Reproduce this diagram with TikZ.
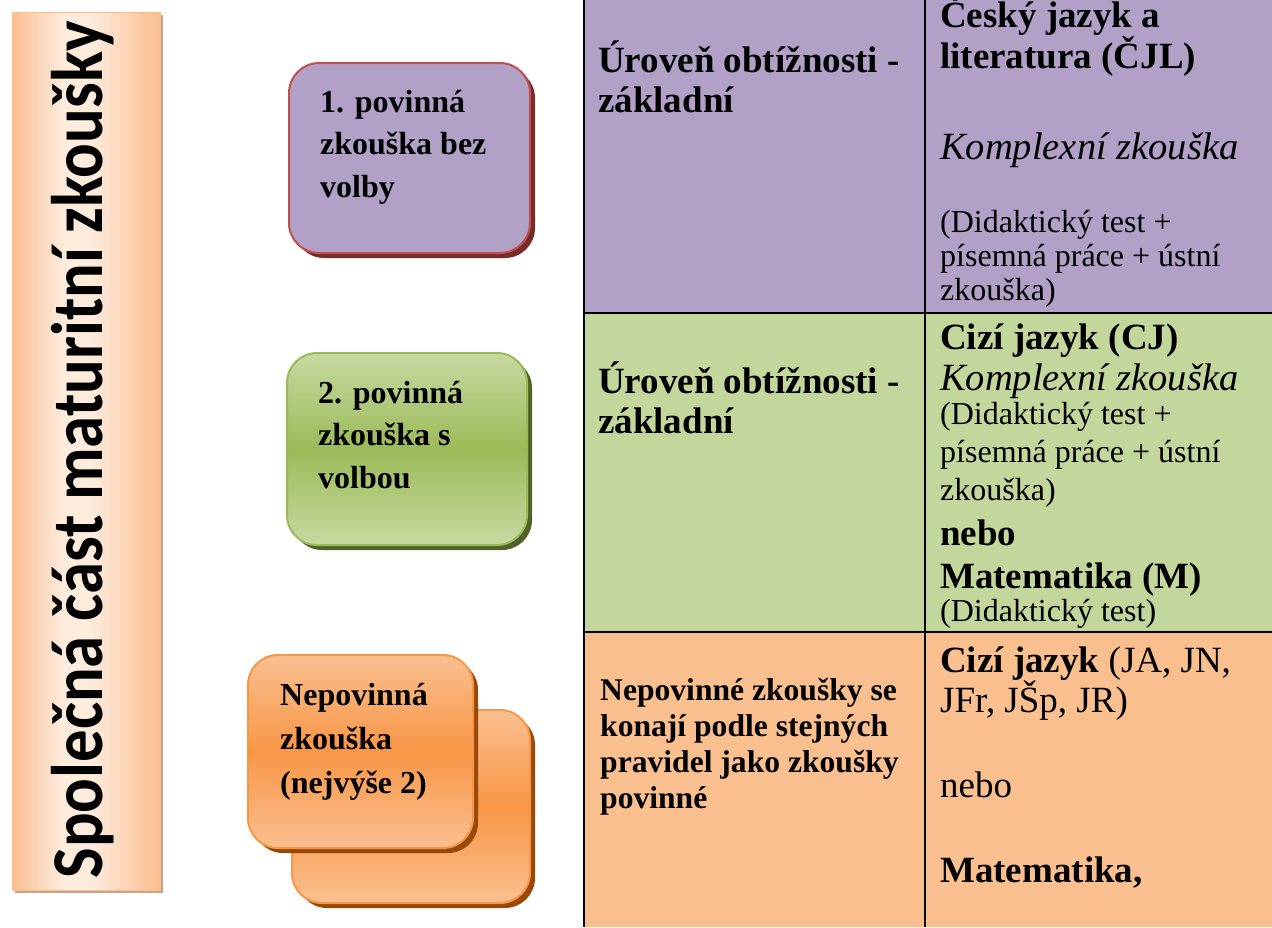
\documentclass[tikz,border=0pt]{standalone}
\usepackage{graphicx}
\usepackage{fontspec}
\setmainfont{Liberation Serif}
\newfontfamily\barfont{Carlito}
\usetikzlibrary{shadows}
\definecolor{rowA}{HTML}{B2A1C7}
\definecolor{rowB}{HTML}{C3D69B}
\definecolor{rowC}{HTML}{F9BF8F}
\definecolor{grnmid}{HTML}{9BBB59}
\definecolor{grnlight}{HTML}{C6D9A1}
\definecolor{grndark}{HTML}{4F6228}
\definecolor{orgmid}{HTML}{F79646}
\definecolor{orglight}{HTML}{FAC090}
\definecolor{orgdark}{HTML}{984807}
\definecolor{redline}{HTML}{C0504D}
\definecolor{reddark}{HTML}{772C2A}
\definecolor{barorange}{HTML}{F9BE8F}
\definecolor{barlight}{HTML}{FDEBDC}
\definecolor{barshadow}{HTML}{C9A48C}
\pgfdeclarehorizontalshading{barshade}{100bp}{color(0bp)=(barorange); color(25bp)=(barorange); color(42bp)=(barlight); color(52bp)=(barlight); color(75bp)=(barorange); color(100bp)=(barorange)}
\tikzset{
  % multi-line cells are placed at the baseline of their last line
  cell/.style={anchor=base west, align=left, inner sep=0pt},
  bigbf/.style={font=\fontsize{37}{40}\selectfont\bfseries},
  bigit/.style={font=\fontsize{38.5}{40}\selectfont\itshape},
  bigrm/.style={font=\fontsize{37}{40}\selectfont},
  smallrm/.style={font=\fontsize{32}{34}\selectfont},
  midbf/.style={font=\fontsize{31.6}{36}\selectfont\bfseries},
  boxtext/.style={anchor=base west, align=left, inner sep=0pt, font=\fontsize{32}{42.5}\selectfont\bfseries},
  exambox/.style={rectangle, rounded corners=30pt, line width=2pt, inner sep=0pt},
  tablerule/.style={line width=2.5pt, black}
}
\begin{document}
\begin{tikzpicture}[x=1pt,y=-1pt]
\useasboundingbox (0,0) rectangle (1272,927);
\fill[white] (0,0) rectangle (1272,927);

% table
\fill[rowA] (584,0) rectangle (1272,313);
\fill[rowB] (584,313) rectangle (1272,632);
\fill[rowC] (584,632) rectangle (1272,927);
\draw[tablerule] (584,0) -- (584,927);
\draw[tablerule] (925,0) -- (925,927);
\draw[tablerule] (584,313) -- (1272,313);
\draw[tablerule] (584,632) -- (1272,632);

\node (lvl1) at (598,112) [cell,bigbf] {Úroveň obtížnosti -\\základní};
\node (lvl2) at (598,433) [cell,bigbf] {Úroveň obtížnosti -\\základní};
\node (rules) at (600,808) [cell,midbf] {Nepovinné zkoušky se\\konají podle stejných\\pravidel jako zkoušky\\povinné};

\node (cjl) at (940,68) [cell,bigbf,font=\fontsize{37}{41}\selectfont\bfseries] {Český jazyk a\\literatura (ČJL)};
\node (kz1) at (940,159) [cell,bigit] {Komplexní zkouška};
\node (dt1) at (940,300) [cell,smallrm] {(Didaktický test +\\písemná práce + ústní\\zkouška)};

\node (cj) at (940,349) [cell,bigbf] {Cizí jazyk (CJ)};
\node (kz2) at (940,390) [cell,bigit] {Komplexní zkouška};
\node (dt2) at (940,500) [cell,smallrm,font=\fontsize{32}{38}\selectfont] {(Didaktický test +\\písemná práce + ústní\\zkouška)};
\node (nebo1) at (940,545) [cell,bigbf] {nebo};
\node (mat1) at (940,588) [cell,bigbf] {Matematika (M)};
\node (dt3) at (940,621) [cell,smallrm] {(Didaktický test)};

\node (cjopt) at (940,712) [cell,bigrm] {\textbf{Cizí jazyk} (JA, JN,\\JFr, JŠp, JR)};
\node (nebo2) at (940,797) [cell,bigrm] {nebo};
\node (mat2) at (940,882) [cell,bigbf] {Matematika,};

% left bar
\node (bar) at (86,451) [rectangle, minimum width=148pt, minimum height=878pt, shading=barshade, draw=barorange, line width=1pt,
  drop shadow={shadow xshift=3pt, shadow yshift=-3pt, fill=barshadow, opacity=1}] {};
\node (title) at (102,450) [rotate=90, anchor=base, inner sep=0pt, font=\barfont\bfseries\fontsize{73}{80}\selectfont]
  {\scalebox{0.886}[1]{Společná část maturitní zkoušky}};

% exam boxes
\node (opt1) at (409.5,158) [exambox, minimum width=241pt, minimum height=190pt, fill=rowA, draw=redline,
  drop shadow={shadow xshift=5pt, shadow yshift=-5pt, fill=reddark, opacity=1}] {};
\node (opt1txt) at (320,197) [boxtext] {1. povinná\\zkouška bez\\volby};

\node (opt2) at (407,449) [exambox, minimum width=240pt, minimum height=192pt, top color=grnlight, bottom color=grnlight, middle color=grnmid, draw=grnmid,
  drop shadow={shadow xshift=5pt, shadow yshift=-5pt, fill=grndark, opacity=1}] {};
\node (opt2txt) at (318,488) [boxtext] {2. povinná\\zkouška s\\volbou};

\node (opt3b) at (411,806.5) [exambox, minimum width=238pt, minimum height=193pt, top color=orglight, bottom color=orglight, middle color=orgmid, draw=orgmid,
  drop shadow={shadow xshift=5pt, shadow yshift=-5pt, fill=orgdark, opacity=1}] {};
\node (opt3) at (360.5,751.5) [exambox, minimum width=225pt, minimum height=193pt, top color=orglight, bottom color=orglight, middle color=orgmid, draw=orgmid,
  drop shadow={shadow xshift=5pt, shadow yshift=-5pt, fill=orgdark, opacity=1}] {};
\node (opt3txt) at (280,793) [boxtext, font=\fontsize{32}{44}\selectfont\bfseries] {Nepovinná\\zkouška\\(nejvýše 2)};
\end{tikzpicture}
\end{document}
